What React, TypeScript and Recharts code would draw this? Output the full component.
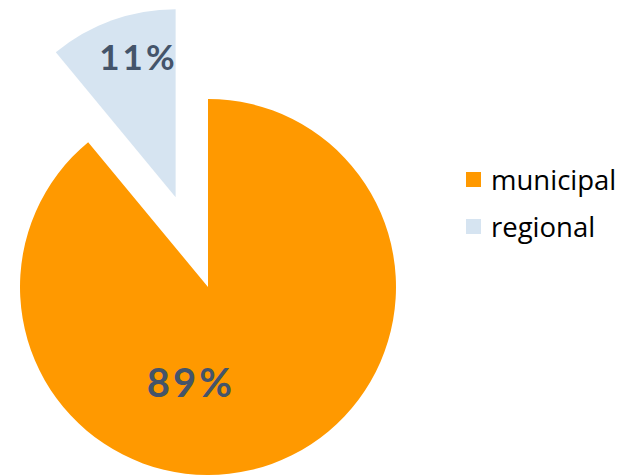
import React from "react";
import { PieChart, Pie, Cell, Legend } from "recharts";

const categories = ["municipal", "regional"];
const values = [89, 11];
const colors = ["#FF9900", "#D6E4F1"];
const labels = ["89%", "11%"];

const data = categories.map((name, i) => ({ name, value: values[i] }));

const LABEL_COLOR = "#44546A";
const FONT = "Lato, 'Open Sans', sans-serif";
const LEGEND_FONT = "'Open Sans', Lato, sans-serif";

const RAD = Math.PI / 180;

const renderMainLabel = (props: any) => {
  if (props.index !== 0) return null;
  const { cx, cy, outerRadius } = props;
  const ang = 259.3 * RAD;
  const r = outerRadius * 0.52;
  const x = cx + r * Math.cos(ang);
  const y = cy - r * Math.sin(ang);
  return (
    <text x={x + 1} y={y - 1} fill={LABEL_COLOR} textAnchor="middle" dominantBaseline="central"
      fontFamily={FONT} fontWeight="bold" fontSize={40} letterSpacing={3}>
      {labels[0]}
    </text>
  );
};

const renderExplodedLabel = (props: any) => {
  if (props.index !== 1) return null;
  const { cx, cy, midAngle, outerRadius } = props;
  const ang = (midAngle - 4.5) * RAD;
  const r = outerRadius * 0.77;
  const x = cx + r * Math.cos(ang);
  const y = cy - r * Math.sin(ang);
  return (
    <text x={x + 1} y={y - 2} fill={LABEL_COLOR} textAnchor="middle" dominantBaseline="central"
      fontFamily={FONT} fontWeight="bold" fontSize={35} letterSpacing={3}>
      {labels[1]}
    </text>
  );
};

const renderLegend = () => (
  <div style={{ fontFamily: LEGEND_FONT, fontSize: 27.5, color: "#000" }}>
    {data.map((d, i) => (
      <div key={d.name} style={{ display: "flex", alignItems: "center", height: 47 }}>
        <span style={{ display: "inline-block", width: 15, height: 15, background: colors[i], marginRight: 10 }} />
        <span>{d.name}</span>
      </div>
    ))}
  </div>
);

export default function App() {
  const cx = 208;
  const cy = 287;
  const R = 188;
  const explode = 95.5;
  const mid = (90 + (values[1] / (values[0] + values[1])) * 180) * RAD;
  const ecx = cx + explode * Math.cos(mid);
  const ecy = cy - explode * Math.sin(mid);
  return (
    <div style={{ position: "absolute", left: 0, top: 0, background: "#fff" }}>
      <PieChart width={623} height={475} margin={{ top: 0, right: 0, bottom: 0, left: 0 }}>
        <Pie
          data={data}
          dataKey="value"
          nameKey="name"
          cx={cx}
          cy={cy}
          outerRadius={R}
          startAngle={90}
          endAngle={-270}
          stroke="none"
          isAnimationActive={false}
          label={renderMainLabel}
          labelLine={false}
          legendType="square"
        >
          {data.map((d, i) => (
            <Cell key={d.name} fill={i === 0 ? colors[0] : "transparent"} />
          ))}
        </Pie>
        <Pie
          data={data}
          dataKey="value"
          nameKey="name"
          cx={ecx}
          cy={ecy}
          outerRadius={R}
          startAngle={90}
          endAngle={-270}
          stroke="none"
          isAnimationActive={false}
          label={renderExplodedLabel}
          labelLine={false}
          legendType="none"
        >
          {data.map((d, i) => (
            <Cell key={d.name} fill={i === 1 ? colors[1] : "transparent"} />
          ))}
        </Pie>
        <Legend
          layout="vertical"
          align="right"
          verticalAlign="top"
          content={renderLegend}
          wrapperStyle={{ left: 466, top: 156, width: 160 }}
        />
      </PieChart>
    </div>
  );
}
